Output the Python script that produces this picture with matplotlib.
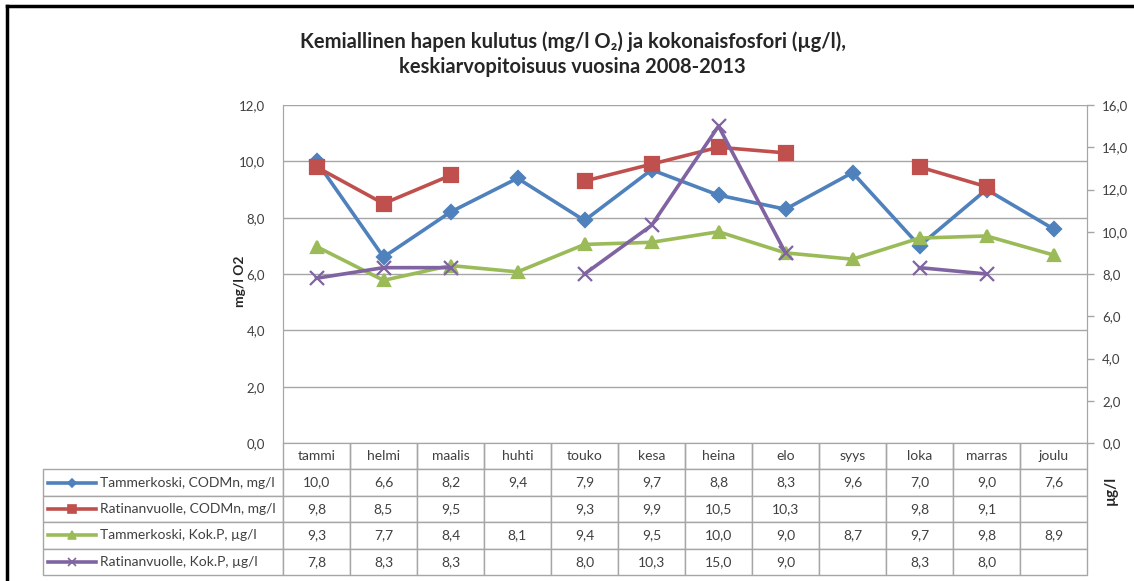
import numpy as np
import matplotlib.pyplot as plt
from matplotlib.ticker import FuncFormatter, MultipleLocator

plt.rcParams['font.family'] = ['Lato', 'DejaVu Sans']

months = ['tammi', 'helmi', 'maalis', 'huhti', 'touko', 'kesa', 'heina', 'elo',
          'syys', 'loka', 'marras', 'joulu']
tam_cod = [10.0, 6.6, 8.2, 9.4, 7.9, 9.7, 8.8, 8.3, 9.6, 7.0, 9.0, 7.6]
rat_cod = [9.8, 8.5, 9.5, np.nan, 9.3, 9.9, 10.5, 10.3, np.nan, 9.8, 9.1, np.nan]
tam_p = [9.3, 7.7, 8.4, 8.1, 9.4, 9.5, 10.0, 9.0, 8.7, 9.7, 9.8, 8.9]
rat_p = [7.8, 8.3, 8.3, np.nan, 8.0, 10.3, 15.0, 9.0, np.nan, 8.3, 8.0, np.nan]
series_names = ['Tammerkoski, CODMn, mg/l', 'Ratinanvuolle, CODMn, mg/l',
                'Tammerkoski, Kok.P, µg/l', 'Ratinanvuolle, Kok.P, µg/l']

colors = ['#4F81BD', '#C0504D', '#9BBB59', '#8064A2']
markers = ['D', 's', '^', 'x']
msizes = [7, 9.5, 9, 10]
grid_c = '#a6a6a6'
text_c = '#404040'

def fmt(v, pos=None):
    return f'{v:.1f}'.replace('.', ',')

W, H = 1134, 581
fig = plt.figure(figsize=(W / 100, H / 100), dpi=100)
ax_l, ax_r, ax_t, ax_b = 283, 1087, 105, 443
ax = fig.add_axes([ax_l / W, 1 - ax_b / H, (ax_r - ax_l) / W, (ax_b - ax_t) / H])
ax2 = ax.twinx()

x = np.arange(len(months))
left_series = [tam_cod, rat_cod]
right_series = [tam_p, rat_p]
for i, vals in enumerate(left_series):
    ax.plot(x, vals, color=colors[i], marker=markers[i], ms=msizes[i], lw=2.6,
            mew=1.6, zorder=3)
for j, vals in enumerate(right_series):
    i = j + 2
    ax2.plot(x, vals, color=colors[i], marker=markers[i], ms=msizes[i], lw=2.6,
             mew=1.6, zorder=3)

ax.set_xlim(-0.5, len(months) - 0.5)
ax.set_ylim(0, 12)
ax2.set_ylim(0, 16)
ax.yaxis.set_major_locator(MultipleLocator(2))
ax2.yaxis.set_major_locator(MultipleLocator(2))
ax.yaxis.set_major_formatter(FuncFormatter(fmt))
ax2.yaxis.set_major_formatter(FuncFormatter(fmt))
ax.set_xticks([])
ax.grid(axis='y', color=grid_c, lw=1)
ax.set_axisbelow(True)
ax.tick_params(axis='y', length=0, pad=13, labelsize=9.5, labelcolor=text_c)
ax2.tick_params(axis='y', length=5, width=1, color=grid_c, pad=6, labelsize=9.5,
                labelcolor=text_c)
for a in (ax, ax2):
    a.spines['top'].set_visible(False)
    for s in ('left', 'right', 'bottom'):
        a.spines[s].set_color(grid_c)

# data table under the plot
cell_text = [[''] + months]
for vals in [tam_cod, rat_cod, tam_p, rat_p]:
    cell_text.append([''] + ['' if np.isnan(v) else fmt(v) for v in vals])
for r in range(1, 5):
    cell_text[r][0] = series_names[r - 1]

tbl_l, tbl_b = 43, 575
pw = ax_r - ax_l
ph = ax_b - ax_t
bbox = [(tbl_l - ax_l) / pw, -(tbl_b - ax_b) / ph, (ax_r - tbl_l) / pw, (tbl_b - ax_b) / ph]
first_w = ax_l - tbl_l
col_w = pw / len(months)
tbl = ax.table(cellText=cell_text, cellLoc='center', bbox=bbox,
               colWidths=[first_w] + [col_w] * len(months))
tbl.auto_set_font_size(False)
tbl.set_fontsize(10)
for (r, c), cell in tbl.get_celld().items():
    cell.set_edgecolor(grid_c)
    cell.set_linewidth(1)
    cell.get_text().set_color(text_c)
    if r == 0 and c == 0:
        cell.visible_edges = ''
    elif r == 0:
        cell.visible_edges = 'BLR'
    if c == 0 and r > 0:
        cell.get_text().set_ha('left')
        cell._loc = 'left'
        cell.PAD = 57 / first_w

# legend keys inside the table label cells
row_h = (tbl_b - ax_b) / 5
for r in range(4):
    yc = -((r + 1.5) * row_h) / ph
    x0 = (48 - ax_l) / pw
    x1 = (96 - ax_l) / pw
    ax.plot([x0, x1], [yc, yc], color=colors[r], lw=2.6, transform=ax.transAxes,
            clip_on=False)
    ax.plot([(x0 + x1) / 2], [yc], color=colors[r], marker=markers[r],
            ms=msizes[r] * 0.6, mew=1.2, transform=ax.transAxes, clip_on=False)

fig.text(0.505, 1 - 54 / H,
         'Kemiallinen hapen kulutus (mg/l O\u2082) ja kokonaisfosfori (µg/l),\n'
         'keskiarvopitoisuus vuosina 2008-2013',
         ha='center', va='center', fontsize=14.5, fontweight='bold',
         color='#262626', linespacing=1.3)
fig.text(240 / W, 1 - 281 / H, 'mg/l O2', rotation=90, ha='center', va='center',
         fontsize=10, fontweight='bold', color='#262626')
fig.text(1111 / W, 1 - 490 / H, 'µg/l', rotation=90, ha='center', va='center',
         fontsize=11, fontweight='bold', color='#262626')

# outer frame lines (top and left)
fig.add_artist(plt.Line2D([7 / W, 1], [1 - 6 / H, 1 - 6 / H], color='black', lw=2.5,
                          transform=fig.transFigure))
fig.add_artist(plt.Line2D([7 / W, 7 / W], [0, 1 - 6 / H], color='black', lw=2.5,
                          transform=fig.transFigure))

fig.savefig('out.png', dpi=100)
